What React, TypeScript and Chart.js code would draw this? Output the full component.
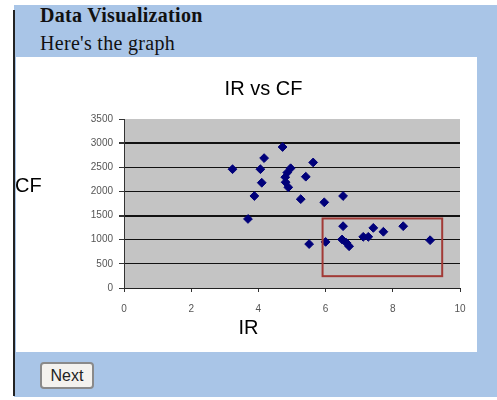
import React, { useEffect, useRef } from "react";
import { Chart, registerables } from "chart.js";

Chart.register(...registerables);

const irValues = [3.23, 3.69, 3.88, 4.06, 4.1, 4.17, 4.72, 4.96, 4.86, 4.8, 4.81, 4.89, 5.26, 5.41, 5.63, 5.96, 5.51, 6.0, 6.52, 6.52, 6.49, 6.62, 6.7, 7.12, 7.27, 7.42, 7.72, 8.31, 9.11];
const cfValues = [2460, 1430, 1905, 2460, 2180, 2690, 2920, 2480, 2390, 2295, 2190, 2085, 1840, 2305, 2600, 1775, 910, 955, 1905, 1280, 1005, 935, 865, 1060, 1060, 1245, 1165, 1280, 990];
const highlightX = [5.91, 9.47];
const highlightY = [245, 1440];
const xTicks = [0, 2, 4, 6, 8, 10];
const yTicks = [0, 500, 1000, 1500, 2000, 2500, 3000, 3500];
const chartTitle = "IR vs CF";
const xTitle = "IR";
const yTitle = "CF";

const FONT = "Arial, 'Liberation Sans', sans-serif";

const decorPlugin = {
  id: "decor",
  beforeDraw(chart: any) {
    const { ctx, chartArea } = chart;
    ctx.save();
    ctx.fillStyle = "#c4c4c4";
    ctx.fillRect(chartArea.left, chartArea.top, chartArea.right - chartArea.left, chartArea.bottom - chartArea.top);
    ctx.restore();
  },
  afterDraw(chart: any) {
    const { ctx, scales } = chart;
    const x = scales.x;
    const y = scales.y;
    ctx.save();
    ctx.strokeStyle = "#a23a36";
    ctx.lineWidth = 2;
    const x0 = x.getPixelForValue(highlightX[0]);
    const x1 = x.getPixelForValue(highlightX[1]);
    const y0 = y.getPixelForValue(highlightY[1]);
    const y1 = y.getPixelForValue(highlightY[0]);
    ctx.strokeRect(x0, y0, x1 - x0, y1 - y0);
    ctx.fillStyle = "#000";
    ctx.textAlign = "center";
    ctx.textBaseline = "middle";
    ctx.font = "20px " + FONT;
    ctx.fillText(chartTitle, 247.5, 32);
    ctx.fillText(xTitle, 232.5, 271);
    ctx.textAlign = "left";
    ctx.fillText(yTitle, -1, 129);
    ctx.restore();
  },
};

export default function App() {
  const ref = useRef<HTMLCanvasElement>(null);
  useEffect(() => {
    if (!ref.current) return;
    const chart = new Chart(ref.current, {
      type: "scatter",
      data: {
        datasets: [
          {
            data: irValues.map((v, i) => ({ x: v, y: cfValues[i] })),
            pointStyle: "rectRot",
            pointRadius: 4.4,
            backgroundColor: "#00007a",
            borderColor: "#00007a",
            borderWidth: 1,
          },
        ],
      },
      options: {
        animation: false,
        responsive: false,
        layout: { padding: { left: 0, right: 17, top: 62, bottom: 0 } },
        plugins: { legend: { display: false }, title: { display: false }, tooltip: { enabled: false } },
        scales: {
          x: {
            type: "linear",
            min: 0,
            max: 10,
            afterBuildTicks: (s: any) => {
              s.ticks = xTicks.map((v) => ({ value: v }));
            },
            afterFit: (s: any) => {
              s.height = 64;
            },
            grid: { drawOnChartArea: false, drawTicks: true, tickLength: 4, color: "#333" },
            border: { color: "#222", width: 1 },
            ticks: {
              color: "#555",
              font: { size: 10, family: FONT },
              padding: 11,
              callback: (v: any) => String(v),
            },
          },
          y: {
            type: "linear",
            min: 0,
            max: 3500,
            afterBuildTicks: (s: any) => {
              s.ticks = yTicks.map((v) => ({ value: v }));
            },
            afterFit: (s: any) => {
              s.width = 108;
            },
            grid: {
              drawOnChartArea: true,
              drawTicks: true,
              tickLength: 5,
              color: (c: any) => (c.tick && c.tick.value === 3500 ? "rgba(0,0,0,0)" : "#111"),
              lineWidth: (c: any) => (c.tick && (c.tick.value === 3000 || c.tick.value === 1500) ? 2 : 1),
              tickColor: "#333",
            },
            border: { color: "#333", width: 1 },
            ticks: {
              color: "#555",
              font: { size: 10, family: FONT },
              padding: 6,
              callback: (v: any) => String(v),
            },
          },
        },
      },
      plugins: [decorPlugin],
    } as any);
    return () => chart.destroy();
  }, []);

  return (
    <div style={{ position: "absolute", left: 0, top: 0, width: 497, height: 400, background: "#fff", overflow: "hidden" }}>
      <div style={{ position: "absolute", left: 14, top: 5, width: 483, height: 392, background: "#a9c5e7" }} />
      <div style={{ position: "absolute", left: 13, top: 10, width: 2, height: 386, background: "#222" }} />
      <div
        style={{
          position: "absolute",
          left: 40,
          top: 3,
          fontFamily: "'Liberation Serif', 'Times New Roman', serif",
          fontWeight: "bold",
          fontSize: 20,
          letterSpacing: 0.3,
          color: "#111",
          lineHeight: "24px",
        }}
      >
        Data Visualization
      </div>
      <div
        style={{
          position: "absolute",
          left: 40,
          top: 31,
          fontFamily: "'Liberation Serif', 'Times New Roman', serif",
          fontSize: 20,
          letterSpacing: 0.3,
          color: "#111",
          lineHeight: "24px",
        }}
      >
        Here's the graph
      </div>
      <div style={{ position: "absolute", left: 16, top: 57, width: 461, height: 295, background: "#fff" }}>
        <canvas ref={ref} width={461} height={295} style={{ width: 461, height: 295, display: "block" }} />
      </div>
      <button
        style={{
          position: "absolute",
          left: 40,
          top: 362,
          width: 54,
          height: 27,
          padding: 0,
          fontFamily: FONT,
          fontSize: 16,
          color: "#222",
          background: "#f4f2ee",
          border: "2px solid #8a8a8a",
          borderRadius: 4,
        }}
      >
        Next
      </button>
    </div>
  );
}
